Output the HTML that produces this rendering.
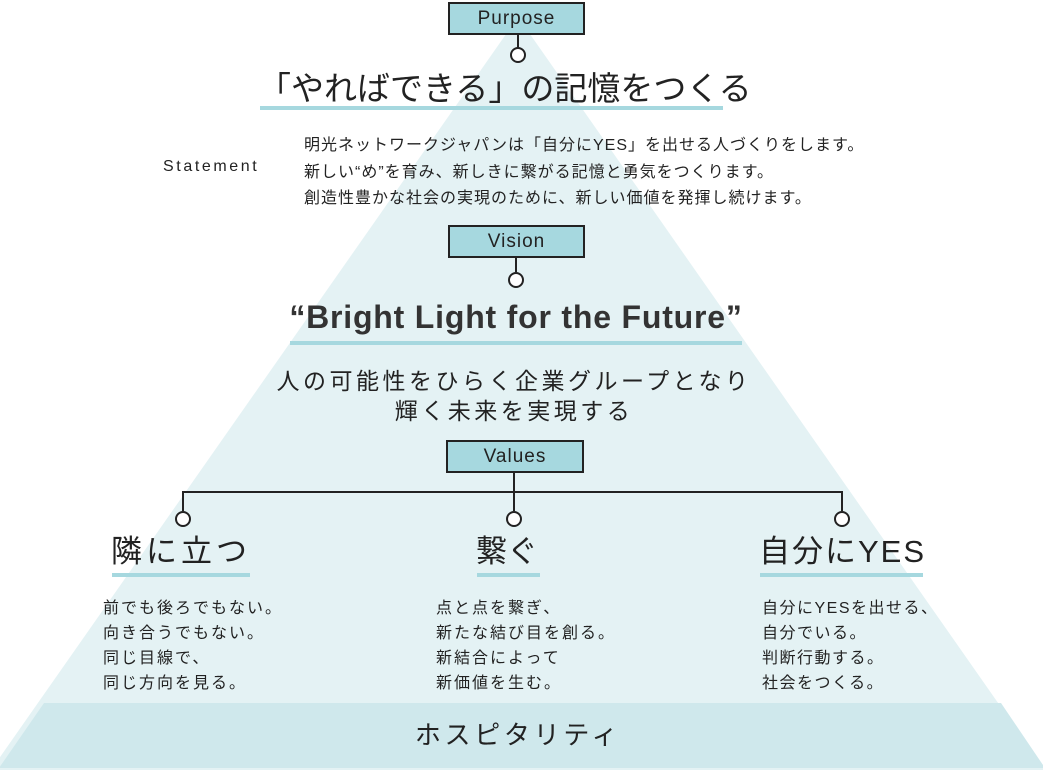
<!DOCTYPE html>
<html><head><meta charset="utf-8"><style>
body{margin:0;width:1043px;height:770px;overflow:hidden;background:#fff;font-family:"Liberation Sans","Noto Sans CJK JP",sans-serif;color:#222}
svg{position:absolute;left:0;top:0}
.t{position:absolute;white-space:nowrap;line-height:1}
.box{position:absolute;background:#a6d8df;border:2px solid #222;box-sizing:border-box;text-align:center;font-size:19px;letter-spacing:1px;color:#222}
.ul{position:absolute;height:4px;background:#a6d8df}
.c{text-align:center}
</style></head><body>
<svg width="1043" height="770">
<polygon points="518,17 1045,770 -9,770" fill="#e4f2f4"/>
<polygon points="44,703 1001,703 1045,768 -1,768" fill="#cfe8ec"/>
<g stroke="#222" stroke-width="2" fill="#fff">
<line x1="518" y1="34" x2="518" y2="48"/><circle cx="518" cy="55" r="7"/>
<line x1="516" y1="257" x2="516" y2="272"/><circle cx="516" cy="280" r="7"/>
<line x1="514" y1="472" x2="514" y2="511"/>
<polyline points="183,511 183,492 842,492 842,511" fill="none"/>
<circle cx="183" cy="519" r="7"/><circle cx="514" cy="519" r="7"/><circle cx="842" cy="519" r="7"/>
</g></svg>
<div class="box" style="left:448px;top:2px;width:137px;height:33px;line-height:29px">Purpose</div>
<div class="t" style="left:258px;top:72px;font-size:33px">「やればできる」の記憶をつくる</div>
<div class="ul" style="left:260px;top:106px;width:463px"></div>
<div class="t" style="left:163px;top:159px;font-size:16px;letter-spacing:2.6px">Statement</div>
<div class="t" style="left:304px;top:133px;font-size:16px;letter-spacing:1px;line-height:26.5px">明光ネットワークジャパンは「自分にYES」を出せる人づくりをします。<br>新しい“め”を育み、新しきに繋がる記憶と勇気をつくります。<br>創造性豊かな社会の実現のために、新しい価値を発揮し続けます。</div>
<div class="box" style="left:448px;top:225px;width:137px;height:33px;line-height:29px">Vision</div>
<div class="t c" style="left:0;width:1032px;top:301px;font-size:32px;font-weight:bold;letter-spacing:0.8px;color:#333">“Bright Light for the Future”</div>
<div class="ul" style="left:290px;top:341px;width:452px"></div>
<div class="t c" style="left:0;width:1028px;top:366px;font-size:23px;line-height:30px;letter-spacing:3.5px">人の可能性をひらく企業グループとなり<br>輝く未来を実現する</div>
<div class="box" style="left:446px;top:440px;width:138px;height:33px;line-height:29px">Values</div>
<div class="t" style="left:111px;top:536px;font-size:31px;letter-spacing:4px">隣に立つ</div>
<div class="ul" style="left:112px;top:573px;width:138px"></div>
<div class="t" style="left:476px;top:536px;font-size:31px">繋ぐ</div>
<div class="ul" style="left:477px;top:573px;width:63px"></div>
<div class="t" style="left:759px;top:536px;font-size:31px;letter-spacing:2px">自分にYES</div>
<div class="ul" style="left:760px;top:573px;width:163px"></div>
<div class="t" style="left:103px;top:596px;font-size:16px;letter-spacing:2px;line-height:25px">前でも後ろでもない。<br>向き合うでもない。<br>同じ目線で、<br>同じ方向を見る。</div>
<div class="t" style="left:436px;top:596px;font-size:16px;letter-spacing:2px;line-height:25px">点と点を繋ぎ、<br>新たな結び目を創る。<br>新結合によって<br>新価値を生む。</div>
<div class="t" style="left:762px;top:596px;font-size:16px;letter-spacing:1.5px;line-height:25px">自分にYESを出せる、<br>自分でいる。<br>判断行動する。<br>社会をつくる。</div>
<div class="t c" style="left:0;width:1036px;top:722px;font-size:26px;letter-spacing:3.7px">ホスピタリティ</div>
</body></html>
